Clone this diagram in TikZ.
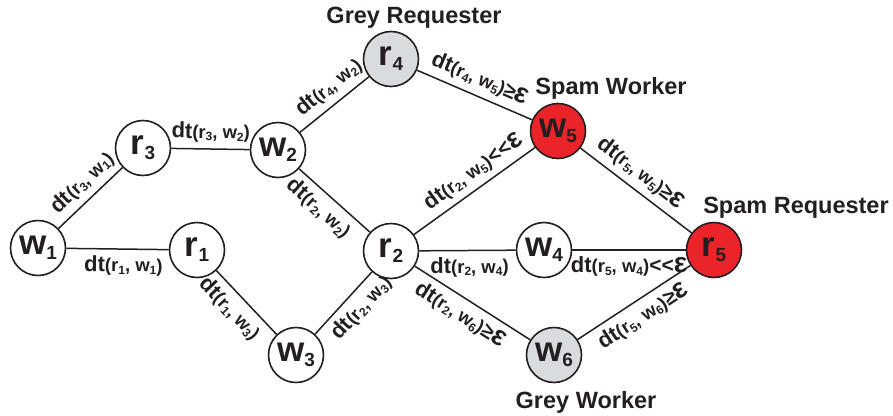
\documentclass[tikz,border=0pt]{standalone}
\usepackage{fontspec}
\setmainfont{Liberation Sans}[BoldFont={Liberation Sans Bold}]
\definecolor{inkgray}{RGB}{35,31,32}
\definecolor{spamred}{RGB}{234,36,40}
\definecolor{greyfill}{RGB}{218,219,221}

% subscripts inside an edge label
\newcommand{\lowsub}[1]{\raisebox{-2.5pt}{\fontsize{12}{12}\selectfont #1}}
% dt(r_a, w_b) followed by an optional relation
\newcommand{\dtlab}[3]{\bfseries\fontsize{22}{22}\selectfont dt\fontsize{18.5}{18.5}\selectfont(r\lowsub{#1}, w\lowsub{#2})#3}
\newcommand{\geps}{{\fontsize{21}{21}\selectfont ≥}{\fontsize{28}{21}\selectfont ε}}
\newcommand{\lleps}{{\fontsize{21}{21}\selectfont <{}<}{\fontsize{28}{21}\selectfont ε}}
% vertex label: big letter with subscript
\newcommand{\vlab}[2]{\bfseries{\fontsize{35}{35}\selectfont #1}\raisebox{-5pt}{\fontsize{19}{19}\selectfont #2}}

\tikzset{
  vertex/.style={circle, draw=inkgray, line width=1.6pt, minimum size=55pt, inner sep=0pt, fill=white, text=inkgray},
  spam/.style={vertex, fill=spamred},
  grey/.style={vertex, fill=greyfill},
  link/.style={draw=inkgray, line width=1.5pt},
  elab/.style={sloped, inner sep=2pt, text=inkgray},
  up/.style={elab, above=4pt},
  down/.style={elab, below=4pt},
  role/.style={font=\bfseries\fontsize{23.5}{23.5}\selectfont, text=inkgray, inner sep=0pt}
}

\begin{document}
\begin{tikzpicture}[x=1pt, y=-1pt]
\useasboundingbox (0,0) rectangle (893,415);

% vertices
\node[vertex] (w1) at (38,248)  {\vlab{w}{1}};
\node[vertex] (r3) at (143,148) {\vlab{r}{3}};
\node[vertex] (r1) at (197,250) {\vlab{r}{1}};
\node[vertex] (w2) at (278,150) {\vlab{w}{2}};
\node[vertex] (w3) at (296,355) {\vlab{w}{3}};
\node[grey]   (r4) at (391,59)  {\vlab{r}{4}};
\node[vertex] (r2) at (391,251) {\vlab{r}{2}};
\node[spam]   (w5) at (558,131) {\vlab{w}{5}};
\node[vertex] (w4) at (544,250) {\vlab{w}{4}};
\node[grey]   (w6) at (554,355) {\vlab{w}{6}};
\node[spam]   (r5) at (714,250) {\vlab{r}{5}};

% role captions
\node[role] (capr4) at (414,18)  {Grey Requester};
\node[role] (capw5) at (611,88)  {Spam Worker};
\node[role] (capr5) at (796,208) {Spam Requester};
\node[role] (capw6) at (586,402) {Grey Worker};

% edges with their labels
\draw[link] (w1) -- node[up,   pos=0.55] {\dtlab{3}{1}{}} (r3);
\draw[link] (r3) -- node[up,   pos=0.5]  {\dtlab{3}{2}{}} (w2);
\draw[link] (w1) -- node[down, pos=0.56] {\dtlab{1}{1}{}} (r1);
\draw[link] (w2) -- node[up,   pos=0.57] {\dtlab{4}{2}{}} (r4);
\draw[link] (r4) -- node[up,   pos=0.49] {\dtlab{4}{5}{\geps}} (w5);
\draw[link] (w2) -- node[down, pos=0.43] {\dtlab{2}{2}{}} (r2);
\draw[link] (r2) -- node[up,   pos=0.57] {\dtlab{2}{5}{\lleps}} (w5);
\draw[link] (w5) -- node[up,   pos=0.45] {\dtlab{5}{5}{\geps}} (r5);
\draw[link] (r2) -- node[down, pos=0.52] {\dtlab{2}{4}{}} (w4);
\draw[link] (w4) -- node[down, pos=0.5]  {\dtlab{5}{4}{\lleps}} (r5);
\draw[link] (r1) -- node[down, pos=0.42] {\dtlab{1}{3}{}} (w3);
\draw[link] (w3) -- node[down, pos=0.6]  {\dtlab{2}{3}{}} (r2);
\draw[link] (r2) -- node[down, pos=0.47] {\dtlab{2}{6}{\geps}} (w6);
\draw[link] (w6) -- node[down, pos=0.5]  {\dtlab{5}{6}{\geps}} (r5);
\end{tikzpicture}
\end{document}
